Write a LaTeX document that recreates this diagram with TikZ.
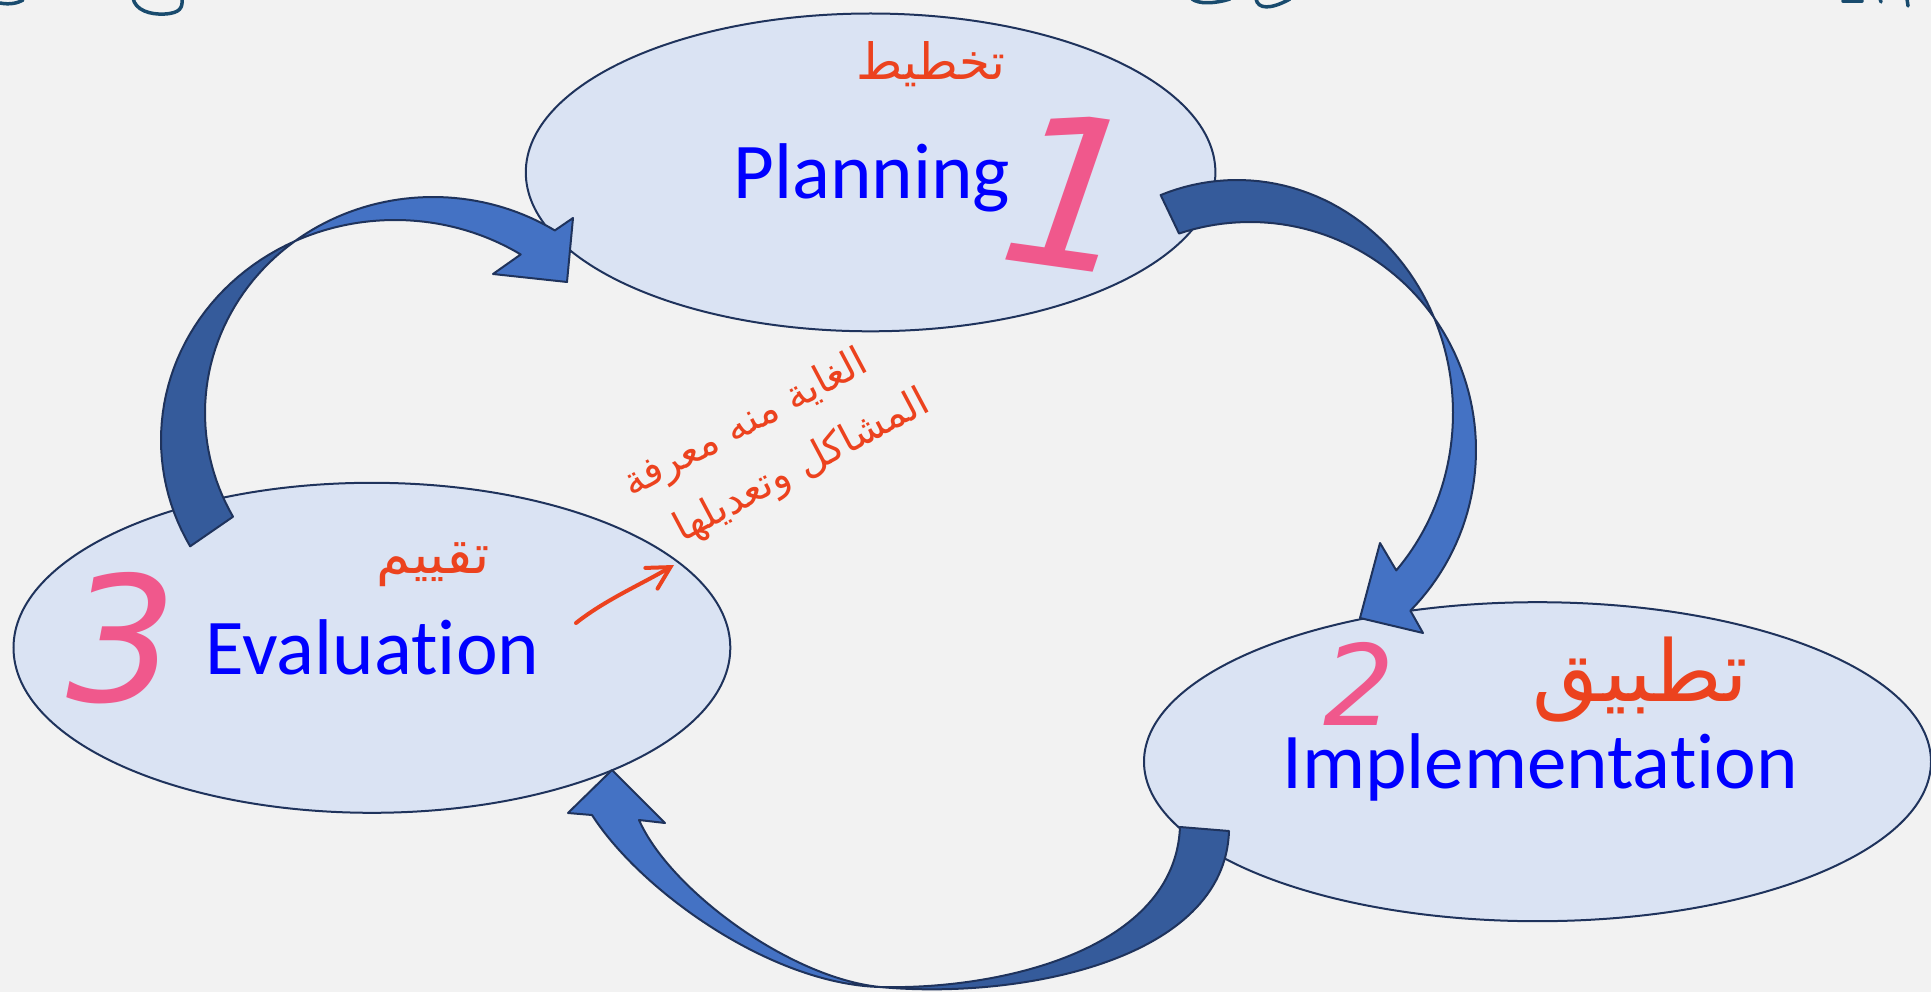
\documentclass[tikz,border=0pt]{standalone}
\usepackage{fontspec}
\setmainfont{Carlito}[Ligatures=NoCommon]
\newfontfamily\arabicfont[Script=Arabic]{DejaVu Sans}
\newfontfamily\numfont{DejaVu Sans}
\TeXXeTstate=1
\usetikzlibrary{shapes.geometric,arrows.meta}
\definecolor{bg}{RGB}{242,242,242}
\definecolor{ellfill}{RGB}{218,227,243}
\definecolor{navy}{RGB}{31,51,92}
\definecolor{arrlight}{RGB}{68,114,196}
\definecolor{arrdark}{RGB}{53,91,155}
\definecolor{labelblue}{RGB}{0,0,255}
\definecolor{redink}{RGB}{236,66,30}
\definecolor{pinkink}{RGB}{240,88,140}
\definecolor{tealink}{RGB}{25,75,110}
\begin{document}
\begin{tikzpicture}[x=1pt,y=-1pt,
  stageell/.style={ellipse, draw=navy, fill=ellfill, line width=2pt, inner sep=0pt},
  stagetext/.style={text=labelblue, inner sep=0pt, font=\fontsize{79}{95}\selectfont},
  arrowdark/.style={fill=arrdark, draw=navy, line width=2pt, line join=round},
  arrowlight/.style={fill=arrlight, draw=navy, line width=2pt, line join=round},
  inktext/.style={text=redink, inner sep=0pt},
  numtext/.style={text=pinkink, inner sep=0pt},
  topink/.style={draw=tealink, line width=3.5pt, line cap=round}]
\fill[bg] (0,0) rectangle (1931,992);
\useasboundingbox (0,0) rectangle (1931,992);

% stages
\node[stageell, minimum width=689.6pt, minimum height=317.8pt] (plan) at (870.6,172.4) {};
\node[stageell, minimum width=716.8pt, minimum height=330pt] (eval) at (371.9,647.8) {};
\node[stageell, minimum width=787pt, minimum height=319pt] (impl) at (1537.5,761.7) {};

% arrow Planning -> Implementation (twisted ribbon: dark back, light front)
\filldraw[arrowdark]
  plot[domain=-110.7:-24, samples=40, variable=\t] ({1237+216*cos(\t)},{413+233*sin(\t)})
  -- plot[domain=-35.4:-108.3, samples=40, variable=\t] ({1250+226*cos(\t)},{450+228*sin(\t)}) -- cycle;
\filldraw[arrowlight]
  plot[domain=-24:42.5, samples=40, variable=\t] ({1237+216*cos(\t)},{413+233*sin(\t)})
  -- (1380,543) -- (1360,618) -- (1423,633)
  -- plot[domain=44.8:-35.4, samples=40, variable=\t] ({1250+226*cos(\t)},{450+228*sin(\t)}) -- cycle;

% arrow Evaluation -> Planning
\filldraw[arrowdark]
  plot[domain=151.3:232.7, samples=40, variable=\t] ({433+228*cos(\t)},{413+216*sin(\t)})
  -- plot[domain=244.7:151.1, samples=40, variable=\t] ({395+234*cos(\t)},{440+220*sin(\t)}) -- cycle;
\filldraw[arrowlight]
  plot[domain=232.7:302.3, samples=40, variable=\t] ({433+228*cos(\t)},{413+216*sin(\t)})
  -- (573,218) -- (567,282) -- (493,274)
  -- plot[domain=302.5:244.7, samples=40, variable=\t] ({395+234*cos(\t)},{440+220*sin(\t)}) -- cycle;

% arrow Implementation -> Evaluation
\coordinate (bx) at (880,987);
\filldraw[arrowdark] (1180,827) .. controls (1175,950) and (1000,990) .. (bx)
  .. controls (1020,1000) and (1225,960) .. (1229,831) -- cycle;
\filldraw[arrowlight] (bx) .. controls (770,984) and (640,890) .. (592,815)
  -- (568,813) -- (612,770) -- (665,823) -- (639,820)
  .. controls (670,890) and (790,978) .. (bx) -- cycle;

% labels
\node[stagetext, anchor=base] (plantxt) at (872,199) {Planning};
\node[stagetext, anchor=base] (evaltxt) at (372.5,674) {Evaluation};
\node[stagetext, anchor=base] (impltxt) at (1540,788) {Implementation};

% handwritten numbers
\node[numtext, rotate=-8, font=\numfont\itshape\fontsize{210}{210}\selectfont] (n1) at (1072,192) {1};
\node[numtext, font=\numfont\itshape\fontsize{112}{112}\selectfont] (n2) at (1359,684) {2};
\node[numtext, font=\numfont\itshape\fontsize{174}{174}\selectfont] (n3) at (122,638) {3};

% handwritten Arabic notes
\node[inktext, font=\arabicfont\fontsize{50}{56}\selectfont] (arplan) at (931,64) {\beginR تخطيط\endR};
\node[inktext, font=\arabicfont\fontsize{85}{90}\selectfont] (arimpl) at (1640,680) {\beginR تطبيق\endR};
\node[inktext, font=\arabicfont\fontsize{55}{60}\selectfont] (areval) at (433,565) {\beginR تقييم\endR};
\node[inktext, rotate=28, align=center, font=\arabicfont\fontsize{40}{64}\selectfont] (note) at (761,453)
  {\beginR الغاية منه معرفة\endR\\\hspace*{60pt}\beginR المشاكل وتعديلها\endR};
\coordinate (inkstart) at (576,623);
\coordinate (inkend) at (674,565);
\draw[redink, line width=4pt, line cap=round, -{Straight Barb[length=22pt,width=24pt,line cap=round]}]
  (inkstart) .. controls (605,600) and (640,585) .. (inkend);

% cut-off handwriting at the top edge
\draw[topink] (0,3) .. controls (10,5) and (18,3) .. (23,0);
\draw[topink] (133,-2) .. controls (135,10) and (150,15) .. (165,14) .. controls (180,13) and (183,8) .. (182,-2);
\draw[topink] (1192,-1) .. controls (1198,4) and (1214,4) .. (1230,-1);
\draw[topink] (1256,-1) .. controls (1258,9) and (1270,10) .. (1290,-1);
\draw[topink] (1843,1) -- (1862,1);
\draw[topink] (1880,-1) -- (1881,2);
\draw[topink] (1907,-1) -- (1908,6);
\end{tikzpicture}
\end{document}
